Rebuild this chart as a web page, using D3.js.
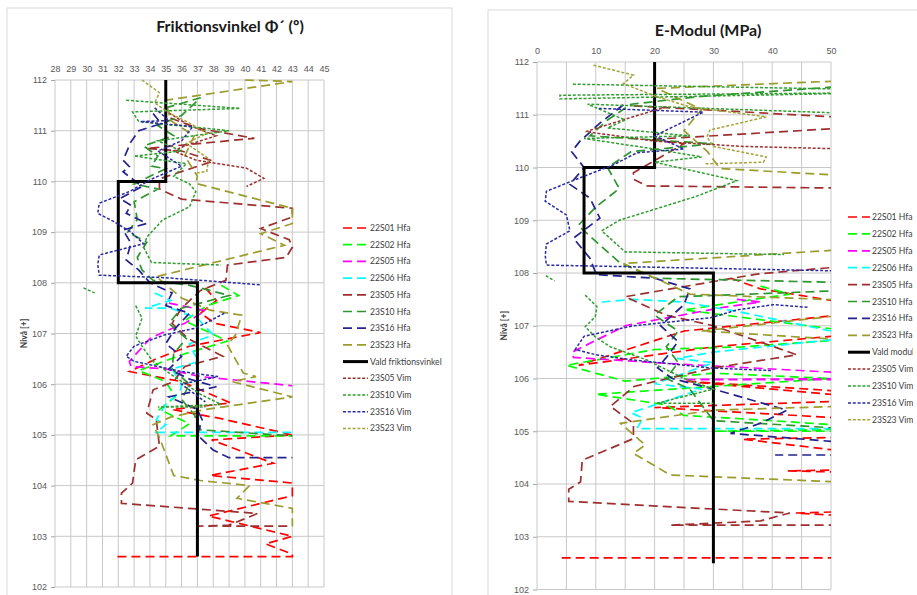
<!DOCTYPE html>
<html>
<head>
<meta charset="utf-8">
<script src="https://cdn.jsdelivr.net/npm/d3@7"></script>
<style>
body { margin: 0; background: #fff; }
svg { font-family: Lato, "Open Sans", sans-serif; }
.axis text { fill: #595959; font-size: 9px; }
.axis .domain, .axis line { stroke: #a6a6a6; }
.legend text { fill: #404040; font-size: 8.6px; }
</style>
</head>
<body>
<svg id="chart" width="917" height="595"></svg>
<script>
// levels (Nivå) and tick labels
let levelTicks = [102, 103, 104, 105, 106, 107, 108, 109, 110, 111, 112];
let phiTicks = d3.range(28, 46);
let emodTicks = [0, 10, 20, 30, 40, 50];
let emodGrid = [0, 5, 10, 15, 20, 25, 30, 35, 40, 45, 50];

let seriesNames = ["22S01 Hfa", "22S02 Hfa", "22S05 Hfa", "22S06 Hfa", "23S05 Hfa", "23S10 Hfa",
                   "23S16 Hfa", "23S23 Hfa", "VALD", "23S05 Vim", "23S10 Vim", "23S16 Vim", "23S23 Vim"];
let seriesColors = ["#ff0000", "#00ff00", "#ff00ff", "#00ffff", "#9e2f2f", "#2e962e",
                    "#23238f", "#9c9c2e", "#000000", "#9e2f2f", "#2e9e2e", "#2a2aa3", "#a3a33a"];

// friktionsvinkel, [value, nivå]
let phi22S01Hfa = [[37.5,107.9],[38.2,107.65],[37.2,107.4],[38.1,107.2],[41,107.02],[36.5,106.75],[34.4,106.5],[32.7,106.25],[36,106.05],[39.1,105.63],[35.4,105.5],[38.5,105.32],[43,105.0],[37.9,104.9],[41.8,104.44],[37.8,104.2],[43,104.05],[43,103.8],[37.7,103.4],[43,103.0],[41.3,102.85],[43,102.65],[43,102.6],[31.8,102.6]];
let phi22S02Hfa = [[38.5,107.95],[39.6,107.75],[37.6,107.55],[36.2,107.25],[38.9,106.85],[36.2,106.6],[33.3,106.27],[35.0,106.05],[35.6,105.75],[34.6,105.5],[36.5,105.22],[35.3,104.98],[43,104.98]];
let phi22S05Hfa = [[35.2,107.6],[37.5,107.45],[36.2,107.2],[35.0,107.05],[34.0,106.9],[32.7,106.45],[32.8,106.35],[35.0,106.3],[37.2,106.15],[43,105.97]];
let phi22S06Hfa = [[34.3,107.8],[35.3,107.65],[33.7,107.5],[35.3,107.5],[37.0,107.3],[38.0,106.97],[36.5,106.8],[36.8,106.6],[37.1,106.45],[35.4,106.3],[36.0,106.0],[35.9,105.85],[35.0,105.6],[34.4,105.3],[35.0,105.2],[34.4,105.05],[43,105.05]];
let phi23S05Hfa = [[35.3,111.25],[37.0,111.05],[40.6,110.85],[33.8,110.65],[36.0,110.6],[38.0,110.4],[34.6,110.05],[34.6,109.85],[36.0,109.65],[43,109.47],[43,109.3],[41.0,109.07],[42.8,108.85],[43,108.7],[42.6,108.5],[38.9,108.35],[38.8,108.05],[37.2,107.85],[36.0,107.5],[35.4,107.2],[36.4,106.9],[38.6,106.55],[36.2,106.35],[35.5,106.05],[34.2,105.89],[33.8,105.43],[34.4,105.3],[34.6,104.78],[33.1,104.51],[32.9,104.05],[32.2,103.85],[32.2,103.65],[40.8,103.45],[39.0,103.22],[37.1,103.2],[43,103.2]];
let phi23S10Hfa = [[35.0,111.45],[37.2,111.65],[36.0,111.3],[34.5,111.1],[35.5,110.9],[33.6,110.7],[34.5,110.5],[34.1,110.3],[35.0,110.25],[33.0,109.95],[34.5,109.85],[33.0,109.6],[33.2,109.25],[32.6,109.0],[33.8,108.8],[33.2,108.5],[33.5,108.25],[34.2,108.05],[36.5,107.95],[37.8,107.85],[39.0,107.75],[36.0,107.5],[35.2,107.2],[36.3,106.9],[35.5,106.6],[35.4,106.3],[36.5,106.0],[36.0,105.7],[36.8,105.4],[37.2,105.1],[43,104.98]];
let phi23S16Hfa = [[34.2,111.34],[34.7,111.14],[33.3,111.0],[32.8,110.78],[32.3,110.42],[32.7,110.29],[32.3,110.19],[33.5,109.9],[32.1,109.66],[32.8,109.53],[32.5,109.37],[33.8,109.17],[32.3,109.04],[32.8,108.78],[32.5,108.45],[33.3,108.25],[34.0,108.0],[35.4,107.8],[35.0,107.55],[36.5,107.4],[35.6,107.1],[35.0,106.8],[36.0,106.55],[35.2,106.3],[36.5,106.1],[38.2,105.95],[35.2,105.75],[37.0,105.5],[37.3,105.3],[37.0,105.0],[38.0,104.7],[39.0,104.55],[43,104.55]];
let phi23S23Hfa = [[40.0,112.0],[43,111.97],[35.0,111.6],[35.3,111.2],[36.8,110.9],[36.2,110.5],[37.0,110.1],[36.9,109.96],[43,109.47],[43,109.17],[41.0,108.97],[42.5,108.74],[34.4,108.12],[36.0,107.7],[37.8,107.46],[39.8,107.36],[39.4,106.97],[38.9,106.77],[39.9,106.22],[40.7,106.15],[39.2,106.05],[43,105.75],[37.5,105.5],[35.3,105.35],[34.2,105.2],[34.6,104.95],[35.5,104.2],[37.2,104.1],[40.3,104.0],[39.5,103.75],[43,103.55],[43,103.2]];
let phiVald = [[35,112],[35,110],[32,110],[32,108],[37,108],[37,102.6]];
let phi23S05Vim = [[35.2,111.35],[36.5,111.1],[38.2,110.9],[36.2,110.7],[35.5,110.6],[36.9,110.42],[40.1,110.26],[41.2,110.06],[40.1,109.9]];
let phi23S10Vim = [[32.5,111.6],[39.7,111.44],[32.9,111.37],[33.3,111.18],[39.0,111.0],[34.5,110.8],[36.0,110.6],[33.0,110.5],[36.3,110.35],[35.5,110.1],[36.5,109.95],[36.9,109.8],[36.5,109.5],[34.8,109.24],[33.8,108.9],[33.6,108.7],[34.1,108.4],[38.5,108.35],null,[29.8,107.9],[30.5,107.8],null,[33.1,107.55],[33.5,107.3],[33.1,106.95],[33.6,106.7],[34.2,106.45],[35.3,106.2],[36.5,105.95],[37.2,105.8],[38.5,105.6],[34.5,105.55],[37.5,105.55]];
let phi23S16Vim = [[34.3,111.45],[35.2,111.2],[33.4,111.18],[36.7,111.08],[36.0,110.8],[34.5,110.6],[36.0,110.3],[34.2,110.06],[32.7,109.8],[30.8,109.57],[30.7,109.37],[31.7,109.21],[32.8,109.0],[33.6,108.77],[30.8,108.55],[30.7,108.36],[30.8,108.15],[35.0,108.1],[41.0,107.96],null,[38.7,107.4],[37.5,107.2],[36.8,107.1],[34.9,106.97],[33.0,106.75],[32.5,106.55],[33.0,106.45],[36.0,106.25],[38.3,106.15],[36.0,106.0],[37.5,105.65]];
let phi23S23Vim = [[33.5,112.0],[34.6,111.75],[34.3,111.55],[35.2,111.35],[36.5,111.15],[37.6,110.95],[36.3,110.75],[37.7,110.45],[37.6,110.2],[36.9,110.16]];

// E-modul, [MPa, nivå]; values above 50 run off the plot
let emod22S01Hfa = [[33,107.9],[38,107.7],[60,107.3],[25,106.9],[7.1,106.25],[30,106.6],[60,106.9],[60,105.7],[25,105.95],[60,105.6],[20,105.45],[60,105.2],[60,104.9],[35,104.85],[50,104.65],[60,104.6],[60,104.28],[42.6,104.25],[60,104.2],[60,103.5],[44,103.45],[60,103.35],[60,102.6],[4,102.6]];
let emod22S02Hfa = [[38,107.75],[43,107.6],[25,107.3],[60,106.8],[35,106.6],[20,106.55],[5,106.25],[15,105.95],[30,106.1],[50,106.0],[10,105.7],[22,105.5],[25,105.3],[40,105.2],[60,105.05],[30,105.0],[60,105.0]];
let emod22S05Hfa = [[34,107.5],[38,107.45],[31.7,107.35],[15,107.0],[6,106.5],[6.2,106.4],[20,106.3],[50,106.12],[60,106.1],[60,106.0],[25,105.98],[60,105.98]];
let emod22S06Hfa = [[11,107.45],[16.4,107.5],[25,107.45],[35,107.25],[50,106.9],[60,106.85],[30,106.5],[23.8,106.38],[30,106.3],[20,105.9],[28,105.8],[16,105.35],[18,105.25],[17,105.05],[60,105.05]];
let emod23S05Hfa = [[16.4,111.17],[60,110.9],[60,110.8],[19.2,110.53],[25,110.45],[16.4,109.9],[16.4,109.78],[18.7,109.65],[60,109.6],[60,108.2],[37.4,107.98],[28,107.8],[15,107.55],[22,107.2],[30,107.0],[44.2,106.45],[30,106.2],[16.5,105.85],[12.5,105.47],[16.4,105.15],[16.4,104.86],[7.7,104.45],[7.4,104.04],[5.4,103.9],[5.4,103.67],[43,103.45],[38,103.3],[22.7,103.22],[60,103.22]];
let emod23S10Hfa = [[60,111.6],[28,111.35],[16,111.2],[12,110.9],[9,110.6],[30,110.45],[16,110.3],[12,110.0],[14,109.6],[10,109.25],[7,108.9],[10,108.6],[14,108.2],[20,107.9],[60,107.8],[60,107.7],[24,107.55],[20,107.2],[24,106.9],[22,106.6],[24,106.3],[22,106.0],[26,105.8],[28,105.5],[30,105.2],[60,105.0]];
let emod23S16Hfa = [[14.7,111.19],[10.7,110.84],[7.3,110.5],[5.9,110.3],[8,110.0],[5.6,109.68],[9,109.42],[10.7,109.04],[6.2,108.66],[9,108.28],[10.1,107.97],[20,107.9],[26,107.7],[25,107.4],[21,107.0],[24,106.7],[22,106.4],[20.5,106.2],[23,106.0],[30,105.8],[42.5,105.4],[38,105.15],[32.9,104.96],[60,104.72],[60,104.55],[40.5,104.55]];
let emod23S23Hfa = [[60,111.68],[20.4,111.5],[28,111.1],[25,110.7],[29,110.3],[31.1,109.98],[60,109.8],[60,108.5],[14.7,108.18],[26,107.6],[60,107.45],[60,107.3],[28,106.9],[50,106.75],[60,106.2],[60,105.5],[30,105.4],[14.2,105.15],[18.4,104.74],[16.4,104.58],[22.7,104.17],[60,104.0]];
let emodVald = [[20,112],[20,110],[8,110],[8,108],[30,108],[30,102.5]];
let emod23S05Vim = [[22,111.15],[16,110.95],[8.3,110.68],[20,110.5],[35,110.4],[60,110.33]];
let emod23S10Vim = [[6.1,111.58],[60,111.47],[60,111.42],[3.9,111.37],[3.9,111.3],[60,111.42],[60,111.0],[8.6,111.2],[15,110.9],[12,110.75],[26,110.6],[8,110.55],[20,110.35],[28,110.2],[20,110.1],[34,109.75],[27,109.45],[14,109.0],[11,108.8],[15,108.4],[42,108.35],null,[1.5,107.95],[3,107.85],null,[8.2,107.58],[10.2,107.36],[9.9,107.17],[8.2,106.98],[9.9,106.79],[12.5,106.6],[18.7,106.35],[25,106.0],[30,105.8],[20.4,105.53],[30,105.53]];
let emod23S16Vim = [[10.5,111.12],[28.3,111.05],[20,110.6],[25,110.35],[17,110.28],[13,110.05],[7.9,109.83],[1.6,109.55],[1.4,109.36],[5,109.1],[5.6,108.8],[1.6,108.55],[1.4,108.33],[1.6,108.15],[60,108.02],null,[46,107.35],[40.2,107.4],[34,107.3],[29.5,107.15],[16.4,107.0],[8,106.8],[6.5,106.55],[10,106.45],[16.4,106.35],[29.5,106.2],[40,106.15]];
let emod23S23Vim = [[9.6,111.94],[16.4,111.75],[14.7,111.59],[20.4,111.34],[26,111.15],[39,110.96],[29.4,110.71],[28.9,110.58],[30,110.4],[39,110.2],[38.5,110.1],[28.6,110.07]];

let phiSeries = [phi22S01Hfa, phi22S02Hfa, phi22S05Hfa, phi22S06Hfa, phi23S05Hfa, phi23S10Hfa,
                 phi23S16Hfa, phi23S23Hfa, phiVald, phi23S05Vim, phi23S10Vim, phi23S16Vim, phi23S23Vim];
let emodSeries = [emod22S01Hfa, emod22S02Hfa, emod22S05Hfa, emod22S06Hfa, emod23S05Hfa, emod23S10Hfa,
                  emod23S16Hfa, emod23S23Hfa, emodVald, emod23S05Vim, emod23S10Vim, emod23S16Vim, emod23S23Vim];

let svg = d3.select("#chart");

function styleFor(name) {
    if (name == "VALD") return {width: 3, dash: null};
    if (name.endsWith("Vim")) return {width: 1.5, dash: "3,1.8"};
    return {width: 1.7, dash: "9,5"};
}

function drawPanel(cfg) {
    let g = svg.append("g");
    g.append("rect")
        .attr("x", cfg.box[0]).attr("y", cfg.box[1])
        .attr("width", cfg.box[2]).attr("height", cfg.box[3])
        .attr("fill", "#fff").attr("stroke", "#d9d9d9");

    g.append("text")
        .attr("x", cfg.titleX).attr("y", cfg.titleY)
        .attr("text-anchor", "middle")
        .attr("font-size", "16px").attr("font-weight", "bold")
        .attr("fill", "#1a1a1a")
        .text(cfg.title);

    let xScale = d3.scaleLinear().domain(cfg.xDomain).range([cfg.left, cfg.right]);
    let yScale = d3.scaleLinear().domain([102, 112]).range([cfg.bottom, cfg.top]);

    g.selectAll(".vgrid").data(cfg.grid).enter().append("line")
        .attr("x1", (d) => xScale(d)).attr("x2", (d) => xScale(d))
        .attr("y1", cfg.top).attr("y2", cfg.bottom)
        .attr("stroke", "#c8c8c8");
    g.selectAll(".hgrid").data(levelTicks).enter().append("line")
        .attr("x1", cfg.left).attr("x2", cfg.right)
        .attr("y1", (d) => yScale(d)).attr("y2", (d) => yScale(d))
        .attr("stroke", "#c8c8c8");

    g.append("g")
        .attr("class", "axis")
        .attr("transform", "translate(0," + cfg.top + ")")
        .call(d3.axisTop(xScale).tickValues(cfg.ticks).tickSize(0).tickPadding(cfg.xPad))
        .select(".domain").remove();
    g.append("g")
        .attr("class", "axis")
        .attr("transform", "translate(" + cfg.left + ",0)")
        .call(d3.axisLeft(yScale).tickValues(levelTicks).tickSize(4).tickPadding(4))
        .select(".domain").remove();

    g.append("text")
        .attr("transform", "translate(" + cfg.yTitleX + "," + ((cfg.top + cfg.bottom) / 2) + ") rotate(-90)")
        .attr("text-anchor", "middle")
        .attr("font-size", "8.5px").attr("font-weight", "bold")
        .attr("fill", "#404040")
        .text("Nivå [+]");

    g.append("clipPath").attr("id", cfg.id + "-clip")
        .append("rect")
        .attr("x", cfg.left).attr("y", cfg.top - 2)
        .attr("width", cfg.right - cfg.left).attr("height", cfg.bottom - cfg.top + 4);

    let line = d3.line()
        .defined((d) => d !== null)
        .x((d) => xScale(d[0]))
        .y((d) => yScale(d[1]));

    let plot = g.append("g").attr("clip-path", "url(#" + cfg.id + "-clip)");
    for (let i = 0; i < seriesNames.length; ++i) {
        let st = styleFor(seriesNames[i]);
        plot.append("path")
            .datum(cfg.series[i])
            .attr("d", line)
            .attr("fill", "none")
            .attr("stroke", seriesColors[i])
            .attr("stroke-width", st.width)
            .attr("stroke-dasharray", st.dash);
    }

    let legend = g.append("g").attr("class", "legend");
    if (cfg.legendClip) {
        g.append("clipPath").attr("id", cfg.id + "-lclip")
            .append("rect").attr("x", 0).attr("y", 0).attr("width", cfg.legendClip).attr("height", 595);
        legend.attr("clip-path", "url(#" + cfg.id + "-lclip)");
    }
    for (let i = 0; i < seriesNames.length; ++i) {
        let st = styleFor(seriesNames[i]);
        let y = cfg.legendY + i * cfg.legendStep;
        legend.append("line")
            .attr("x1", cfg.legendX).attr("x2", cfg.legendX + cfg.legendLen)
            .attr("y1", y).attr("y2", y)
            .attr("stroke", seriesColors[i])
            .attr("stroke-width", st.width)
            .attr("stroke-dasharray", seriesNames[i].endsWith("Hfa") ? "9,5" : st.dash);
        legend.append("text")
            .attr("x", cfg.legendX + cfg.legendLen + 2).attr("y", y + 3)
            .text(seriesNames[i] == "VALD" ? cfg.valdName : seriesNames[i]);
    }
}

drawPanel({
    id: "phi", box: [7, 8, 445, 600],
    title: "Friktionsvinkel Φ´ (º)", titleX: 230, titleY: 32,
    xDomain: [28, 45], left: 55, right: 324, top: 80, bottom: 587,
    ticks: phiTicks, grid: phiTicks, xPad: 8, yTitleX: 27,
    series: phiSeries, valdName: "Vald friktionsvinkel",
    legendX: 343, legendLen: 25, legendY: 228, legendStep: 16.7
});

drawPanel({
    id: "emod", box: [488, 10, 440, 600],
    title: "E-Modul (MPa)", titleX: 708, titleY: 36,
    xDomain: [0, 50], left: 537, right: 831, top: 62, bottom: 589.5,
    ticks: emodTicks, grid: emodGrid, xPad: 8, yTitleX: 507,
    series: emodSeries, valdName: "Vald modul",
    legendX: 848, legendLen: 22, legendY: 217, legendStep: 16.9, legendClip: 913
});
</script>
</body>
</html>
